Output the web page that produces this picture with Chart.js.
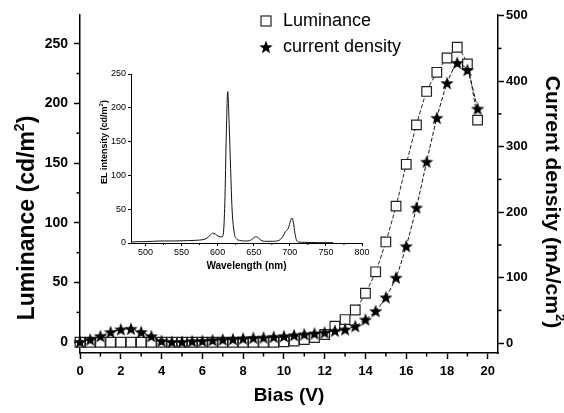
<!DOCTYPE html>
<html><head><meta charset="utf-8">
<script src="https://cdn.jsdelivr.net/npm/chart.js@4/dist/chart.umd.min.js"></script>
<style>
html,body{margin:0;padding:0;background:#fff;}
#wrap{position:relative;width:564px;height:413px;overflow:hidden;}
#main{position:absolute;left:0;top:0;}
#inset{position:absolute;left:95px;top:60px;}
</style></head><body>
<div id="wrap"><canvas id="main" width="564" height="413"></canvas><canvas id="inset" width="280" height="215"></canvas></div>
<script>
// ---- data ----
const bias = [0,0.5,1,1.5,2,2.5,3,3.5,4,4.5,5,5.5,6,6.5,7,7.5,8,8.5,9,9.5,10,10.5,11,11.5,12,12.5,13,13.5,14,14.5,15,15.5,16,16.5,17,17.5,18,18.5,19,19.5];
const luminance = [0,0,0,0,0,0,0,0,0,0,0,0,0,0,0,0,0,0,0,0,0.3,1,2.3,4,6.5,13.5,19,27,41,59,84,114,149,182,210,226,238,247,233,186];
const currentDensity = [2,5.6,10.7,17,21,22,17,10.7,3.5,2,2,3,3.5,4.6,5.6,6.1,7.1,8.1,8.6,9.7,10.7,12.2,13.7,14.8,16.3,19,21,26,36,49,70,100,148,207,277,344,397,428,417,358];
const biasTicks = [0,2,4,6,8,10,12,14,16,18,20];
const biasMinorTicks = [1,3,5,7,9,11,13,15,17,19];
const luminanceTicks = [0,50,100,150,200,250];
const luminanceMinorTicks = [25,75,125,175,225];
const currentTicks = [0,100,200,300,400,500];
const currentMinorTicks = [50,150,250,350,450];

const wavelength = [480,490,500,510,520,540,560,570,580,585,590,593,597,601,606,608,610,612,614,616,618,620,623,626,630,636,642,647,651,654,658,662,668,676,685,690,694,698,701,703,705,707,709,712,720,740,760];
const elIntensity = [1.5,2,2,2.5,3,3,3.5,4,5,7,12,14.5,13,10,9,15,60,160,224,175,110,50,15,6,4,3,3,5,8.5,9,6,3,2.5,2.5,4,9,17,22,33,37,30,15,5,1.5,1,0.5,0.5];
const wavelengthTicks = [500,550,600,650,700,750,800];
const wavelengthMinorTicks = [525,575,625,675,725,775];
const elTicks = [0,50,100,150,200,250];

const seriesNames = ['Luminance', 'current density'];
const titleBias = [{ text: 'Bias (V)' }];
const titleLuminance = [{ text: 'Luminance (cd/m' }, { text: '2', sup: true }, { text: ')' }];
const titleCurrent = [{ text: 'Current density (mA/cm' }, { text: '2', sup: true }, { text: ')' }];
const titleEL = [{ text: 'EL intensity (cd/m' }, { text: '2', sup: true }, { text: ')' }];

// ---- styles ----
const FONT = "'Liberation Sans', Arial, Helvetica, sans-serif";

function makeStar(size) {
  const c = document.createElement('canvas');
  c.width = size; c.height = size;
  const g = c.getContext('2d');
  const cx = size / 2, cy = size / 2 + 0.6, R = size / 2, r = R * 0.42;
  g.beginPath();
  for (let i = 0; i < 10; i++) {
    const a = -Math.PI / 2 + i * Math.PI / 5;
    const rr = i % 2 === 0 ? R : r;
    const px = cx + rr * Math.cos(a), py = cy + rr * Math.sin(a);
    if (i === 0) g.moveTo(px, py); else g.lineTo(px, py);
  }
  g.closePath();
  g.fillStyle = '#000';
  g.fill();
  return c;
}
const starImg = makeStar(14);

function drawRich(ctx, parts, size, weight) {
  const fMain = `${weight} ${size}px ${FONT}`;
  const fSup = `${weight} ${Math.round(size * 0.62)}px ${FONT}`;
  const widths = parts.map(p => { ctx.font = p.sup ? fSup : fMain; return ctx.measureText(p.text).width; });
  const total = widths.reduce((a, b) => a + b, 0);
  let x = -total / 2;
  ctx.textBaseline = 'middle';
  ctx.textAlign = 'left';
  ctx.fillStyle = '#000';
  parts.forEach((p, i) => {
    ctx.font = p.sup ? fSup : fMain;
    ctx.fillText(p.text, x, p.sup ? -size * 0.36 : 0);
    x += widths[i];
  });
}

const titlesPlugin = {
  id: 'axisTitles',
  afterDraw(chart, args, opts) {
    const ctx = chart.ctx;
    for (const t of (opts.items || [])) {
      ctx.save();
      ctx.translate(t.x, t.y);
      ctx.rotate(t.rotation || 0);
      drawRich(ctx, t.parts, t.size, t.weight || 'bold');
      ctx.restore();
    }
  }
};

const minorTicksPlugin = {
  id: 'minorTicks',
  afterDraw(chart, args, opts) {
    const ctx = chart.ctx;
    ctx.save();
    ctx.strokeStyle = '#000';
    ctx.lineWidth = opts.width || 1;
    const len = opts.length || 3;
    for (const [id, vals] of Object.entries(opts.ticks || {})) {
      const s = chart.scales[id];
      if (!s) continue;
      for (const v of vals) {
        if (v < s.min || v > s.max) continue;
        const p = s.getPixelForValue(v);
        ctx.beginPath();
        if (s.isHorizontal()) { ctx.moveTo(p, s.top); ctx.lineTo(p, s.top + len); }
        else if (s.position === 'left') { ctx.moveTo(s.right, p); ctx.lineTo(s.right - len, p); }
        else { ctx.moveTo(s.left, p); ctx.lineTo(s.left + len, p); }
        ctx.stroke();
      }
    }
    ctx.restore();
  }
};

const legendPlugin = {
  id: 'customLegend',
  afterDraw(chart, args, opts) {
    const ctx = chart.ctx;
    ctx.save();
    ctx.font = opts.font;
    ctx.textBaseline = 'middle';
    ctx.textAlign = 'left';
    opts.rows.forEach((row) => {
      const ds = chart.data.datasets[row.dataset];
      const y = row.y;
      if (ds.pointStyle === 'rect') {
        ctx.fillStyle = '#fff';
        ctx.strokeStyle = ds.pointBorderColor;
        ctx.lineWidth = 1.2;
        ctx.fillRect(opts.markerX - 5, y - 5, 10, 10);
        ctx.strokeRect(opts.markerX - 5, y - 5, 10, 10);
      } else {
        ctx.drawImage(ds.pointStyle, opts.markerX - ds.pointStyle.width / 2, y - ds.pointStyle.height / 2);
      }
      ctx.fillStyle = '#000';
      ctx.fillText(ds.label, opts.textX, y);
    });
    ctx.restore();
  }
};

function fixedTicks(arr) {
  return (scale) => { scale.ticks = arr.map(v => ({ value: v })); };
}

const axisBase = {
  border: { display: true, color: '#000', width: 1.5 },
  grid: { display: true, drawOnChartArea: false, drawTicks: true, tickLength: 6, tickWidth: 1.5, tickColor: '#000' },
};

new Chart(document.getElementById('main'), {
  type: 'line',
  data: {
    datasets: [
      {
        label: seriesNames[1],
        data: bias.map((b, i) => ({ x: b, y: currentDensity[i] })),
        yAxisID: 'y1',
        borderColor: '#111',
        borderWidth: 1,
        borderDash: [4, 2],
        pointStyle: starImg,
        pointRadius: 7,
        tension: 0.2,
        order: 0,
        clip: false
      },
      {
        label: seriesNames[0],
        data: bias.map((b, i) => ({ x: b, y: luminance[i] })),
        yAxisID: 'y',
        borderColor: '#222',
        borderWidth: 1,
        borderDash: [4, 2],
        pointStyle: 'rect',
        pointRadius: 6.8,
        pointBackgroundColor: '#fff',
        pointBorderColor: '#222',
        pointBorderWidth: 1.2,
        tension: 0.2,
        order: 1,
        clip: false
      }
    ]
  },
  options: {
    responsive: false,
    animation: false,
    devicePixelRatio: 1,
    layout: { padding: { top: 15, left: 0, right: 0, bottom: 0 } },
    plugins: {
      legend: { display: false },
      tooltip: { enabled: false },
      minorTicks: { length: 3.5, width: 1.5, ticks: { x: biasMinorTicks, y: luminanceMinorTicks, y1: currentMinorTicks } },
      customLegend: { font: "18px " + FONT, markerX: 266, textX: 283, rows: [{ dataset: 1, y: 21 }, { dataset: 0, y: 47 }] },
      axisTitles: { items: [
        { parts: titleBias, x: 289, y: 396, size: 19 },
        { parts: titleLuminance, x: 28, y: 218, size: 23, rotation: -Math.PI / 2 },
        { parts: titleCurrent, x: 552, y: 202, size: 21, rotation: Math.PI / 2 }
      ] }
    },
    scales: {
      x: {
        ...axisBase,
        type: 'linear', position: 'bottom', min: 0, max: 20.5,
        afterBuildTicks: fixedTicks(biasTicks),
        afterFit: (s) => { s.height = 60; },
        ticks: { color: '#000', font: { family: FONT, size: 13, weight: 'bold' }, padding: 5, autoSkip: false, maxRotation: 0, callback: (v) => String(v) }
      },
      y: {
        ...axisBase,
        type: 'linear', position: 'left', min: -9, max: 274,
        afterBuildTicks: fixedTicks(luminanceTicks),
        afterFit: (s) => { s.width = 80; },
        ticks: { color: '#000', font: { family: FONT, size: 14, weight: 'bold' }, padding: 6, callback: (v) => String(v) }
      },
      y1: {
        ...axisBase,
        type: 'linear', position: 'right', min: -15, max: 501,
        afterBuildTicks: fixedTicks(currentTicks),
        afterFit: (s) => { s.width = 66; },
        ticks: { color: '#000', font: { family: FONT, size: 13, weight: 'bold' }, padding: 2, callback: (v) => String(v) }
      }
    }
  },
  plugins: [minorTicksPlugin, legendPlugin, titlesPlugin]
});

const insetAxis = {
  border: { display: true, color: '#000', width: 1 },
  grid: { display: true, drawOnChartArea: false, drawTicks: true, tickLength: 3, tickWidth: 1, tickColor: '#000' },
};

new Chart(document.getElementById('inset'), {
  type: 'line',
  data: {
    datasets: [{
      label: 'EL',
      data: wavelength.map((w, i) => ({ x: w, y: elIntensity[i] })),
      borderColor: '#111',
      borderWidth: 1,
      pointRadius: 0,
      cubicInterpolationMode: 'monotone',
      fill: false
    }]
  },
  options: {
    responsive: false,
    animation: false,
    devicePixelRatio: 1,
    layout: { padding: { top: 14, right: 13, left: 0, bottom: 0 } },
    plugins: {
      legend: { display: false },
      tooltip: { enabled: false },
      minorTicks: { length: 2, width: 1, ticks: { x: wavelengthMinorTicks } },
      axisTitles: { items: [
        { parts: titleEL, x: 10, y: 82, size: 9, rotation: -Math.PI / 2 }
      ] }
    },
    scales: {
      x: {
        ...insetAxis,
        type: 'linear', min: 480, max: 800,
        afterBuildTicks: fixedTicks(wavelengthTicks),
        afterFit: (s) => { s.height = 32; },
        ticks: { color: '#000', font: { family: FONT, size: 9 }, padding: 1, autoSkip: false, maxRotation: 0, callback: (v) => String(v) },
        title: { display: true, text: 'Wavelength (nm)', color: '#000', font: { family: FONT, size: 10, weight: 'bold' }, padding: { top: 0, bottom: 3 } }
      },
      y: {
        ...insetAxis,
        type: 'linear', min: 0, max: 250,
        afterBuildTicks: fixedTicks(elTicks),
        afterFit: (s) => { s.width = 36; },
        ticks: { color: '#000', font: { family: FONT, size: 9 }, padding: 2, callback: (v) => String(v) }
      }
    }
  },
  plugins: [minorTicksPlugin, titlesPlugin]
});
</script>
</body></html>
